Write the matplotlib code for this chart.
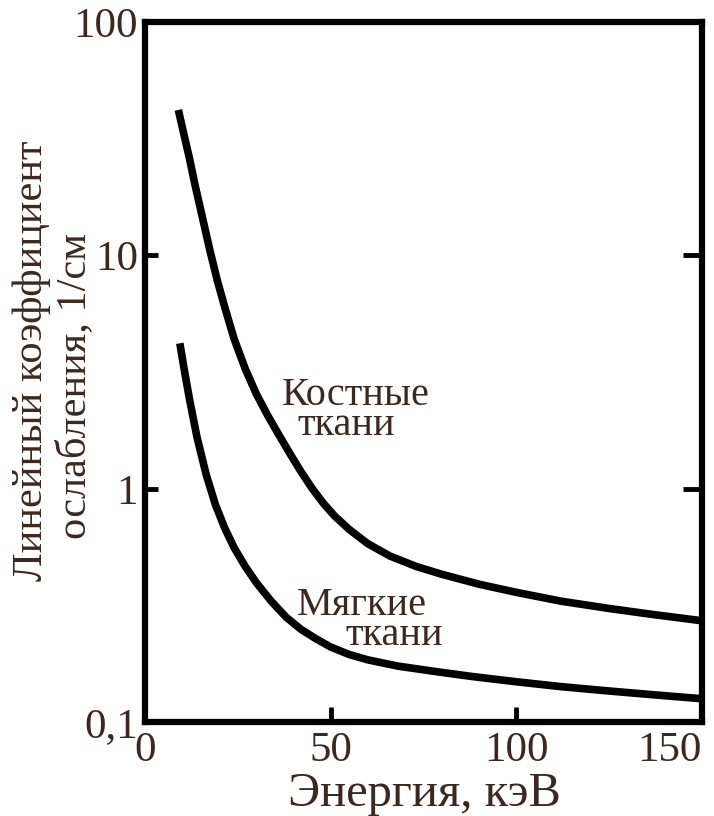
#! /usr/bin/env python
#
#   linear attenuation coefficient vs photon energy (bone / soft tissue)
#
import numpy as np
import matplotlib
matplotlib.use('agg')
import matplotlib.pyplot as plt

# values
bone_e = [9, 10.5, 12, 13.5, 15.5, 17.5, 19.5, 21.5, 24, 27, 30, 33, 36, 39,
          42, 45, 48, 51, 55, 60, 66, 73, 80, 90, 100, 112, 125, 137, 150]
bone_mu = [42, 33, 26, 20, 14.5, 10.5, 7.8, 6.0, 4.4, 3.27, 2.55, 2.07, 1.71,
           1.42, 1.186, 1.005, 0.869, 0.767, 0.67, 0.582, 0.515, 0.465, 0.43,
           0.39, 0.36, 0.33, 0.307, 0.289, 0.272]

soft_e = [9.4, 10.5, 12, 14, 16.5, 19, 21.5, 24, 27, 30, 34, 38, 42, 46, 50,
          55, 60, 68, 78, 88, 100, 112, 125, 137, 150]
soft_mu = [4.2, 3.3, 2.42, 1.67, 1.15, 0.853, 0.678, 0.56, 0.465, 0.396, 0.33,
           0.282, 0.25, 0.228, 0.21, 0.195, 0.185, 0.174, 0.165, 0.157, 0.149,
           0.142, 0.136, 0.131, 0.126]

xticks = [0, 50, 100, 150]
yticks = [0.1, 1, 10, 100]
ylabels = ['0,1', '1', '10', '100']

txt = '#3b2820'
plt.rcParams['font.family'] = ['Liberation Serif', 'DejaVu Serif']

fig = plt.figure(figsize=(7.14, 8.16), dpi=100)
ax = fig.add_axes([0.203, 0.115, 0.780, 0.858])

ax.plot(bone_e, bone_mu, color='black', lw=5.5, solid_capstyle='butt',
        solid_joinstyle='round')
ax.plot(soft_e, soft_mu, color='black', lw=5.5, solid_capstyle='butt',
        solid_joinstyle='round')

ax.set_yscale('log')
ax.set_xlim(0, 150)
ax.set_ylim(0.1, 100)

ax.set_xticks(xticks)
ax.set_xticklabels([str(v) for v in xticks])
ax.set_yticks(yticks)
ax.set_yticklabels(ylabels)
ax.minorticks_off()
ax.tick_params(axis='both', direction='in', width=3.5, labelsize=31,
               labelcolor=txt, color='black')
ax.tick_params(axis='x', length=11, pad=7)
ax.tick_params(axis='y', length=9, pad=5, right=True)
ax.get_xticklabels()[-1].set_horizontalalignment('right')
# right-hand ticks are a bit longer in the original
for t in ax.yaxis.get_major_ticks():
    t.tick2line.set_markersize(14)

for s in ax.spines.values():
    s.set_linewidth(4.5)

ax.text(36.9, 2.5, 'Костные', fontsize=29, color=txt, va='center', ha='left')
ax.text(41.2, 1.87, 'ткани', fontsize=29, color=txt, va='center', ha='left')
ax.text(41.0, 0.317, 'Мягкие', fontsize=29, color=txt, va='center', ha='left')
ax.text(53.9, 0.236, 'ткани', fontsize=29, color=txt, va='center', ha='left')

fig.text(0.595, 0.027, 'Энергия, кэВ', fontsize=35, color=txt,
         ha='center', va='center')
fig.text(0.045, 0.558, 'Линейный коэффициент', fontsize=30.5, color=txt,
         ha='center', va='center', rotation=90)
fig.text(0.105, 0.527, 'ослабления, 1/см', fontsize=30.5, color=txt,
         ha='center', va='center', rotation=90)

fig.savefig('out.png', dpi=100)
print("Wrote out.png")
